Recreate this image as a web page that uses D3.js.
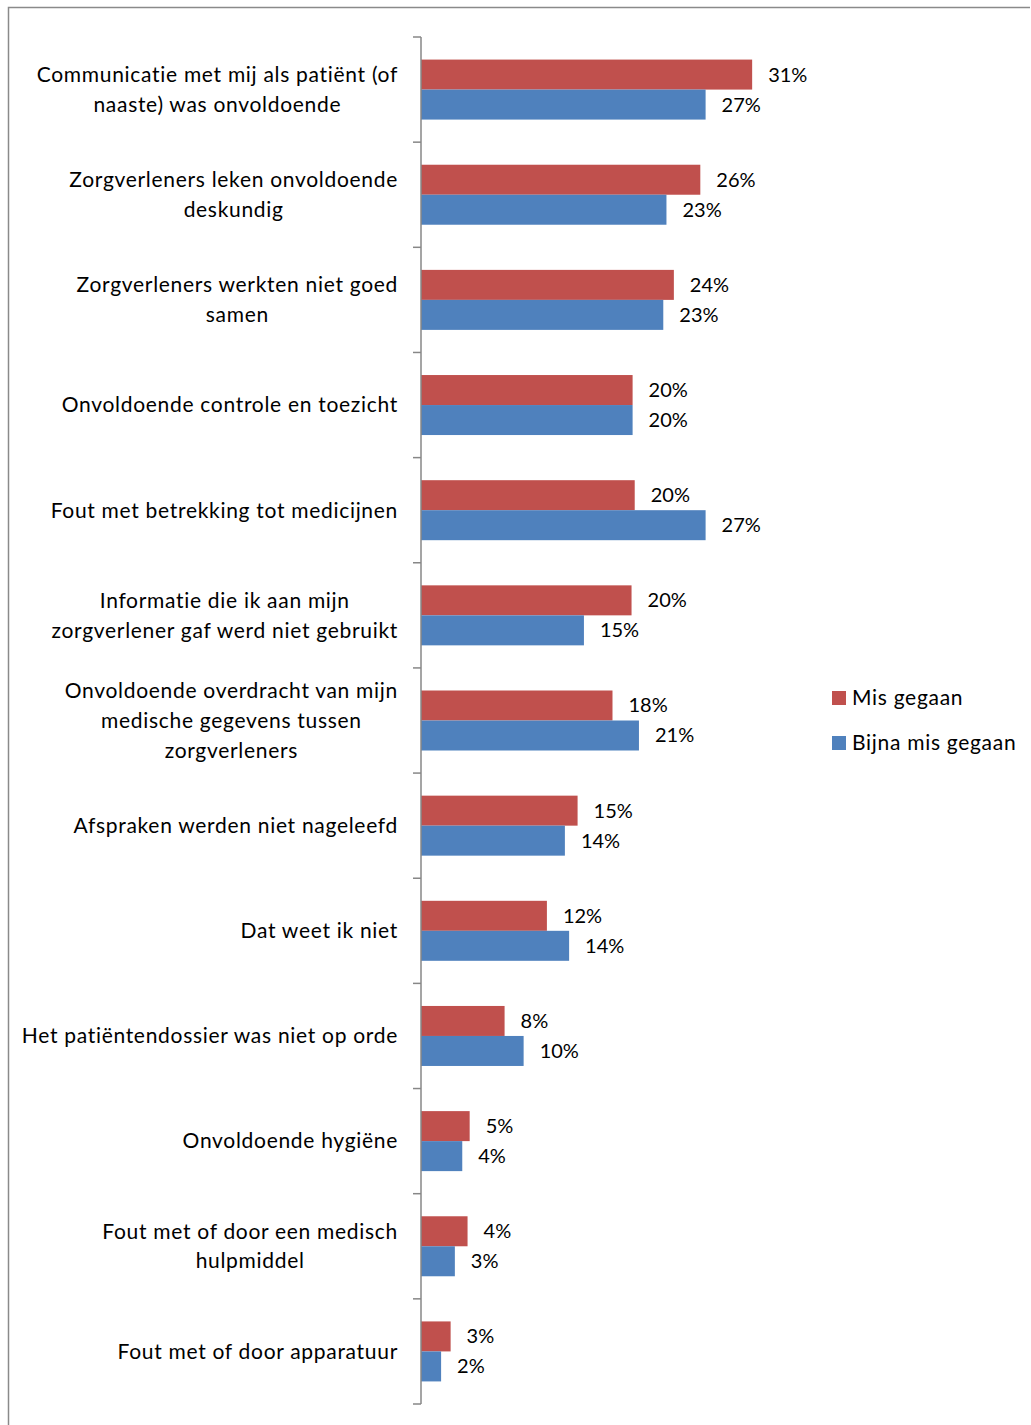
<!DOCTYPE html>
<html>
<head>
<meta charset="utf-8">
<script src="https://cdn.jsdelivr.net/npm/d3@7"></script>
<style>
  body { margin: 0; background: #fff; }
  svg text { font-family: Lato, "Open Sans", sans-serif; fill: #000; }
</style>
</head>
<body>
<div id="chart"></div>
<script>
// categories, top to bottom (lines split where the original wraps)
const categories = [
  ["Communicatie met mij als patiënt (of", "naaste) was onvoldoende"],
  ["Zorgverleners leken onvoldoende", "deskundig"],
  ["Zorgverleners werkten niet goed", "samen"],
  ["Onvoldoende controle en toezicht"],
  ["Fout met betrekking tot medicijnen"],
  ["Informatie die ik aan mijn", "zorgverlener gaf werd niet gebruikt"],
  ["Onvoldoende overdracht van mijn", "medische gegevens tussen", "zorgverleners"],
  ["Afspraken werden niet nageleefd"],
  ["Dat weet ik niet"],
  ["Het patiëntendossier was niet op orde"],
  ["Onvoldoende hygiëne"],
  ["Fout met of door een medisch", "hulpmiddel"],
  ["Fout met of door apparatuur"]
]
const seriesNames = ["Mis gegaan", "Bijna mis gegaan"]
const seriesColors = ["#C0504D", "#4F81BD"]
// percentages
const misGegaan = [31.3, 26.4, 23.9, 20.0, 20.2, 19.9, 18.1, 14.8, 11.9, 7.9, 4.6, 4.4, 2.8]
const bijnaMisGegaan = [26.9, 23.2, 22.9, 20.0, 26.9, 15.4, 20.6, 13.6, 14.0, 9.7, 3.9, 3.2, 1.9]

const width = 1031
const height = 1425
const margin = { top: 37, left: 421, bottom: 21 }

const svg = d3.select('#chart')
  .append('svg')
  .attr('width', width)
  .attr('height', height)

// outer chart border (only top and left are visible)
svg.append('path')
  .attr('d', `M8.5,${height} V7.5 H${width - 1}`)
  .attr('fill', 'none')
  .attr('stroke', '#8a8a8a')
  .attr('stroke-width', 1.5)

const idx = d3.range(categories.length)

const y0 = d3.scaleBand()
  .domain(idx)
  .range([margin.top, height - margin.bottom])

const groupH = 60
const y1 = d3.scaleBand()
  .domain([0, 1])
  .range([(y0.bandwidth() - groupH) / 2, (y0.bandwidth() + groupH) / 2])

const x = d3.scaleLinear()
  .domain([0, 35])
  .range([margin.left, margin.left + 35 * 10.58])

const rows = idx.map(i => ({ i, values: [misGegaan[i], bijnaMisGegaan[i]] }))

const groups = svg.append('g')
  .selectAll('g')
  .data(rows)
  .join('g')
  .attr('transform', d => `translate(0, ${y0(d.i)})`)

groups.selectAll('rect')
  .data(d => d.values.map((v, s) => ({ v, s })))
  .join('rect')
  .attr('x', x(0))
  .attr('y', d => y1(d.s))
  .attr('width', d => x(d.v) - x(0))
  .attr('height', y1.bandwidth())
  .attr('fill', d => seriesColors[d.s])

groups.selectAll('text.val')
  .data(d => d.values.map((v, s) => ({ v, s })))
  .join('text')
  .attr('class', 'val')
  .attr('x', d => x(d.v) + 16)
  .attr('y', d => y1(d.s) + y1.bandwidth() / 2)
  .attr('dy', '0.35em')
  .attr('font-size', '20px')
  .text(d => Math.round(d.v) + '%')

// category labels: block right-aligned at 398, lines centred within block
const labelRight = 398
const lineH = 29.7
const labels = svg.append('g')
  .selectAll('g')
  .data(rows)
  .join('g')

labels.each(function(d) {
  const g = d3.select(this)
  const lines = categories[d.i]
  const cy = y0(d.i) + y0.bandwidth() / 2
  const texts = g.selectAll('text')
    .data(lines)
    .join('text')
    .attr('font-size', '21px')
    .attr('letter-spacing', '0.7px')
    .attr('text-anchor', 'middle')
    .attr('y', (l, k) => cy + (k - (lines.length - 1) / 2) * lineH)
    .attr('dy', '0.35em')
    .text(l => l)
  const maxW = d3.max(texts.nodes(), n => n.getComputedTextLength())
  texts.attr('x', labelRight - maxW / 2)
})

// vertical axis with ticks between categories
const axis = svg.append('g')
  .attr('stroke', '#878787')
  .attr('stroke-width', 1.5)
  .attr('fill', 'none')

axis.append('line')
  .attr('x1', x(0)).attr('x2', x(0))
  .attr('y1', y0.range()[0]).attr('y2', y0.range()[1])

axis.selectAll('line.tick')
  .data(idx.concat([categories.length]))
  .join('line')
  .attr('class', 'tick')
  .attr('x1', x(0) - 8).attr('x2', x(0))
  .attr('y1', i => y0.range()[0] + i * y0.step())
  .attr('y2', i => y0.range()[0] + i * y0.step())

// legend
const legend = svg.append('g')
  .attr('transform', 'translate(832, 691)')

const items = legend.selectAll('g')
  .data(seriesNames)
  .join('g')
  .attr('transform', (d, i) => `translate(0, ${i * 45})`)

items.append('rect')
  .attr('width', 14)
  .attr('height', 14)
  .attr('fill', (d, i) => seriesColors[i])

items.append('text')
  .attr('x', 20)
  .attr('y', 7)
  .attr('dy', '0.35em')
  .attr('font-size', '21px')
  .attr('letter-spacing', '0.7px')
  .text(d => d)
</script>
</body>
</html>
